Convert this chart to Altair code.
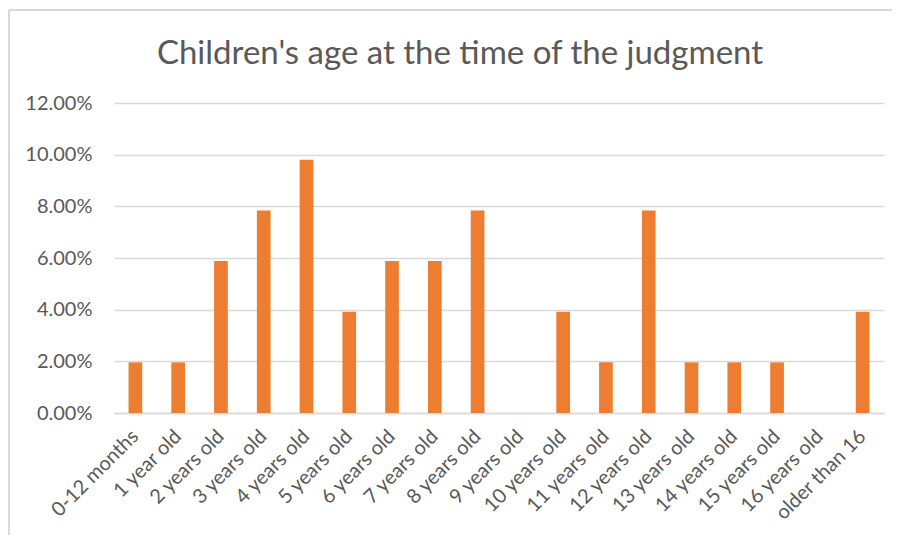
import altair as alt
import pandas as pd

categories = ["0-12 months", "1 year old", "2 years old", "3 years old", "4 years old",
              "5 years old", "6 years old", "7 years old", "8 years old", "9 years old",
              "10 years old", "11 years old", "12 years old", "13 years old", "14 years old",
              "15 years old", "16 years old", "older than 16"]
shares = [0.0196, 0.0196, 0.0588, 0.0784, 0.0980, 0.0392, 0.0588, 0.0588, 0.0784, 0.0,
          0.0392, 0.0196, 0.0784, 0.0196, 0.0196, 0.0196, 0.0, 0.0392]
y_ticks = [0, 0.02, 0.04, 0.06, 0.08, 0.10, 0.12]

df = pd.DataFrame({"age": categories, "share": shares})

FONT = "Lato"
GREY = "#595959"

bars = alt.Chart(df).mark_bar(color="#ED7D31").encode(
    x=alt.X("age:N", sort=categories,
            scale=alt.Scale(paddingInner=0.68, paddingOuter=0.34),
            axis=alt.Axis(title=None, labelAngle=-45, labelAlign="right",
                          labelBaseline="middle", labelPadding=20, ticks=False,
                          domainColor="#d9d9d9", domainWidth=1.3,
                          labelFont=FONT, labelFontSize=20, labelColor=GREY)),
    y=alt.Y("share:Q", scale=alt.Scale(domain=[0, 0.12], nice=False),
            axis=alt.Axis(title=None, format=".2%", values=y_ticks, domain=False,
                          ticks=False, tickSize=0, labelPadding=22,
                          gridColor="#d9d9d9", gridWidth=1.3,
                          labelFont=FONT, labelFontSize=20, labelColor=GREY)),
)

border_left = alt.Chart(df).mark_rule(color="#d9d9d9", strokeWidth=1.5).encode(
    x=alt.value(-105), y=alt.value(-93), y2=alt.value(445))
border_top = alt.Chart(df).mark_rule(color="#d9d9d9", strokeWidth=1.5).encode(
    x=alt.value(-105), x2=alt.value(800), y=alt.value(-93))

chart = alt.layer(border_left, border_top, bars).properties(
    width=770, height=310,
    padding={"left": 106, "top": 95, "right": 8, "bottom": 122},
    autosize=alt.AutoSizeParams(type="none"),
    title=alt.TitleParams("Children's age at the time of the judgment",
                          anchor="middle", frame="group", dx=-39, dy=88, offset=0,
                          baseline="alphabetic", font=FONT, fontSize=33,
                          fontWeight="normal", color=GREY),
).configure(background="white").configure_view(stroke=None)

chart.save("out.html", embed_options={"renderer": "svg", "actions": False})
